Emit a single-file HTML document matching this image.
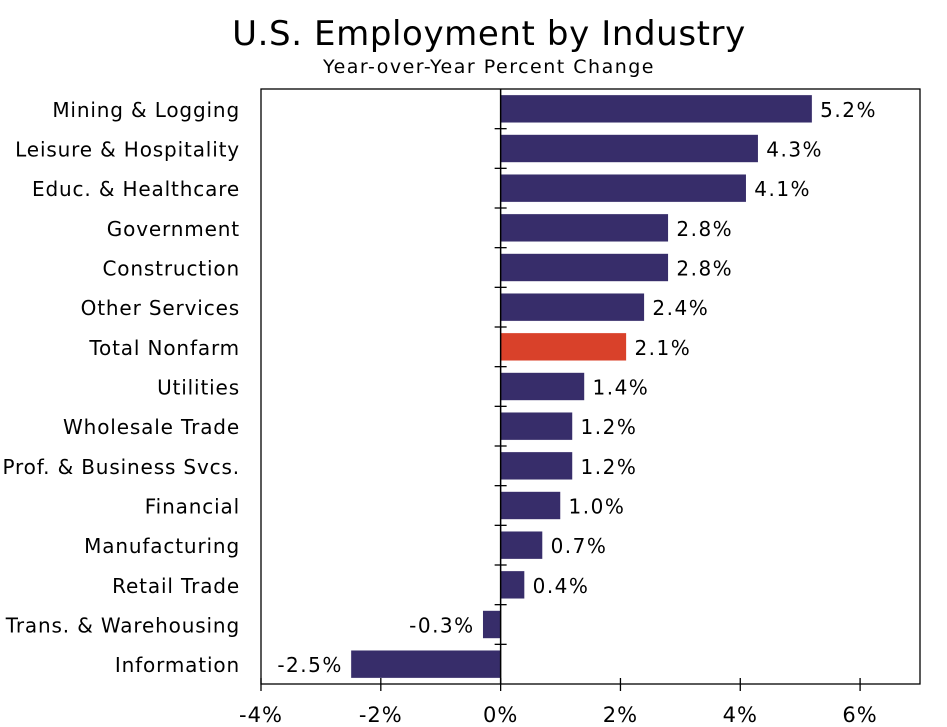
<!DOCTYPE html>
<html><head><meta charset="utf-8"><style>
body{margin:0;background:#fff;}
svg{display:block;font-family:"DejaVu Sans","Liberation Sans",sans-serif;}
</style></head><body>
<svg id="chart" width="947" height="727">
<rect x="0" y="0" width="947" height="727" fill="#fff"/>
<text x="489" y="45" font-size="34" letter-spacing="0.6" text-anchor="middle" fill="#000">U.S. Employment by Industry</text>
<text x="489" y="73" font-size="19" letter-spacing="1.5" text-anchor="middle" fill="#000">Year-over-Year Percent Change</text>
<g id="plot"></g>
</svg>
<script>
const categories=["Mining & Logging","Leisure & Hospitality","Educ. & Healthcare","Government","Construction","Other Services","Total Nonfarm","Utilities","Wholesale Trade","Prof. & Business Svcs.","Financial","Manufacturing","Retail Trade","Trans. & Warehousing","Information"];
const values=[5.2,4.3,4.1,2.8,2.8,2.4,2.1,1.4,1.2,1.2,1.0,0.7,0.4,-0.3,-2.5];
const valueLabels=["5.2%","4.3%","4.1%","2.8%","2.8%","2.4%","2.1%","1.4%","1.2%","1.2%","1.0%","0.7%","0.4%","-0.3%","-2.5%"];
const highlight=["Total Nonfarm"];
const xTicks=[-4,-2,0,2,4,6];
const xTickLabels=["-4%","-2%","0%","2%","4%","6%"];
const L=261,R=920,T=89,B=684,xmin=-4,xmax=7;
const NS="http://www.w3.org/2000/svg";
const g=document.getElementById('plot');
function x(v){return L+(v-xmin)/(xmax-xmin)*(R-L);}
const band=(B-T)/categories.length;
function y(i){return T+band*i+band/2;}
function mk(t,a,p){const e=document.createElementNS(NS,t);for(const k in a)e.setAttribute(k,a[k]);(p||g).appendChild(e);return e;}
const frame=mk('rect',{x:L,y:T,width:R-L,height:B-T,fill:'none',stroke:'#000','stroke-width':1.3});


categories.forEach((c,i)=>{
  const v=values[i];
  const x0=Math.min(x(0),x(v)),w=Math.abs(x(v)-x(0));
  const r=mk('rect',{x:x0,y:y(i)-14,width:w,height:28,fill:highlight.includes(c)?'#d9412a':'#372d6a',stroke:'#fff','stroke-width':0.6});
  
  
  const t=mk('text',{x:v>=0?x(v)+8:x(v)-8,y:y(i)+8,'font-size':20,'letter-spacing':1.5,'text-anchor':v>=0?'start':'end',fill:'#000'});
  t.textContent=valueLabels[i];
  
  
  const cl=mk('text',{x:240,y:y(i)+8,'font-size':20,'letter-spacing':0.85,'text-anchor':'end',fill:'#000'});
  cl.textContent=c;
  
  
  if(i>0){const tk=mk('line',{x1:x(0)-6,x2:x(0)+6,y1:T+band*i,y2:T+band*i,stroke:'#000','stroke-width':1.3});
  
  }
});
const zl=mk('line',{x1:x(0),x2:x(0),y1:T,y2:B,stroke:'#000','stroke-width':1.5});


xTicks.forEach((v,i)=>{
  const l=mk('line',{x1:x(v),x2:x(v),y1:B-6,y2:B+7,stroke:'#000','stroke-width':1.3});
  
  
  const t=mk('text',{x:x(v),y:B+38,'font-size':21,'letter-spacing':1,'text-anchor':'middle',fill:'#000'});
  t.textContent=xTickLabels[i];
  
  
});
</script>
</body></html>
